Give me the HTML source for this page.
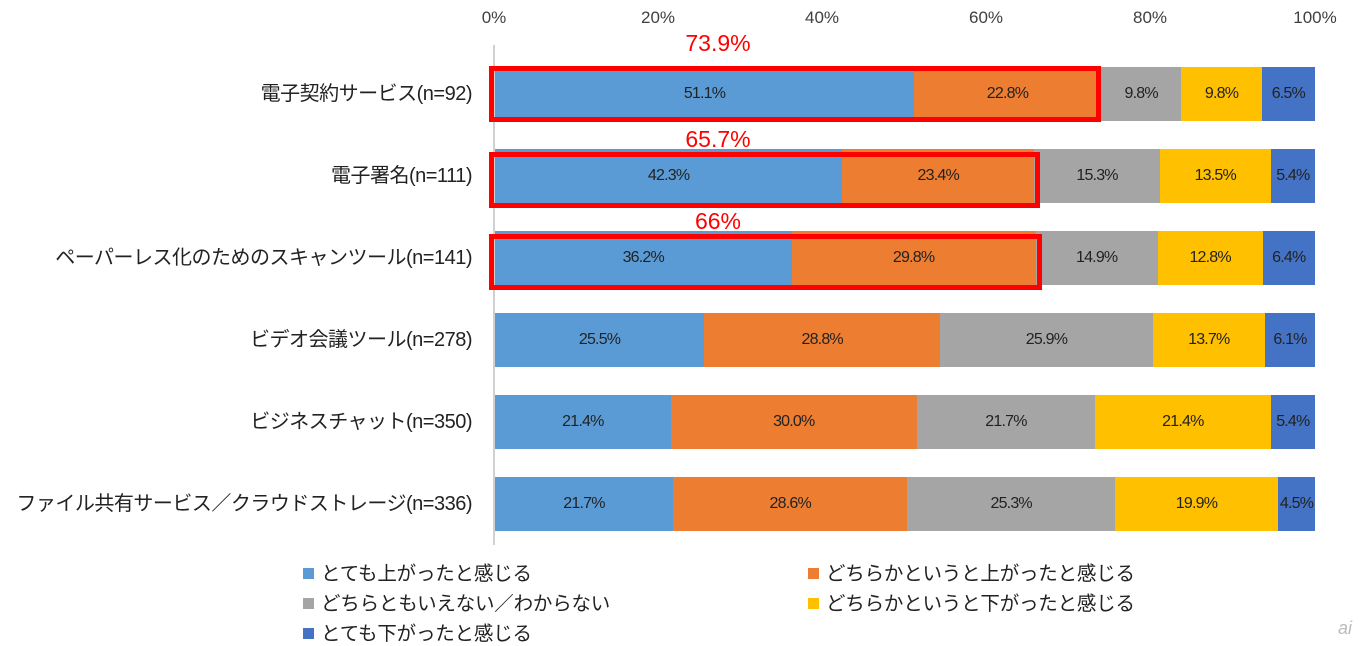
<!DOCTYPE html>
<html><head><meta charset="utf-8"><style>
body{margin:0;width:1368px;height:646px;background:#fff;font-family:"Liberation Sans","Noto Sans CJK JP",sans-serif;position:relative;overflow:hidden}
.a{position:absolute}
.t{position:absolute;top:8px;font-size:17px;color:#404040;transform:translateX(-50%)}
.lab{position:absolute;right:896px;font-size:20px;color:#222;white-space:nowrap;line-height:20px;letter-spacing:-0.5px}
.seg{position:absolute;height:54px;display:flex;align-items:center;justify-content:center;font-size:16px;color:#222;letter-spacing:-0.8px}
.box{position:absolute;border:5px solid #f00;box-sizing:border-box}
.red{position:absolute;color:#f00;font-size:23px;transform:translateX(-50%)}
.lg{position:absolute;font-size:19.5px;color:#222;line-height:18px;letter-spacing:-0.2px}
.lg i{position:absolute;left:-18px;top:3px;width:11px;height:11px}
</style></head><body>
<div class="a" style="left:493px;top:45px;width:2px;height:500px;background:#d0d0d0"></div>
<div class="t" style="left:494px">0%</div><div class="t" style="left:658px">20%</div><div class="t" style="left:822px">40%</div><div class="t" style="left:986px">60%</div><div class="t" style="left:1150px">80%</div><div class="t" style="left:1315px">100%</div>
<div id="c"></div>
<script>
var rows=[["電子契約サービス(n=92)",[51.1,22.8,9.8,9.8,6.5]],["電子署名(n=111)",[42.3,23.4,15.3,13.5,5.4]],["ペーパーレス化のためのスキャンツール(n=141)",[36.2,29.8,14.9,12.8,6.4]],["ビデオ会議ツール(n=278)",[25.5,28.8,25.9,13.7,6.1]],["ビジネスチャット(n=350)",[21.4,30.0,21.7,21.4,5.4]],["ファイル共有サービス／クラウドストレージ(n=336)",[21.7,28.6,25.3,19.9,4.5]]];
var col=["#5b9bd5","#ed7d31","#a5a5a5","#ffc000","#4472c4"];
var h="";
rows.forEach(function(r,i){var top=67+i*82;h+='<div class="lab" style="top:'+(top+17)+'px">'+r[0]+'</div>';
var x=495,tot=r[1].reduce(function(a,b){return a+b});
r[1].forEach(function(v,j){var w=v/tot*820;h+='<div class="seg" style="left:'+x+'px;top:'+top+'px;width:'+w+'px;background:'+col[j]+'">'+v.toFixed(1)+'%</div>';x+=w;});});
[[73.9,"73.9%",66,30,0],[65.7,"65.7%",152,126,6],[66,"66%",234,208,6]].forEach(function(b){var r=495+b[0]/100*820+b[4];
h+='<div class="box" style="left:489px;top:'+b[2]+'px;width:'+(r-489)+'px;height:56px"></div>';
h+='<div class="red" style="left:718px;top:'+b[3]+'px">'+b[1]+'</div>';});
document.getElementById("c").innerHTML=h;
</script>
<div class="lg" style="left:321px;top:565px"><i style="background:#5b9bd5"></i>とても上がったと感じる</div>
<div class="lg" style="left:826px;top:565px"><i style="background:#ed7d31"></i>どちらかというと上がったと感じる</div>
<div class="lg" style="left:321px;top:595px"><i style="background:#a5a5a5"></i>どちらともいえない／わからない</div>
<div class="lg" style="left:826px;top:595px"><i style="background:#ffc000"></i>どちらかというと下がったと感じる</div>
<div class="lg" style="left:321px;top:625px"><i style="background:#4472c4"></i>とても下がったと感じる</div>
<div class="a" style="left:1338px;top:618px;font-size:18px;color:#bbb;font-style:italic">ai</div>
</body></html>
